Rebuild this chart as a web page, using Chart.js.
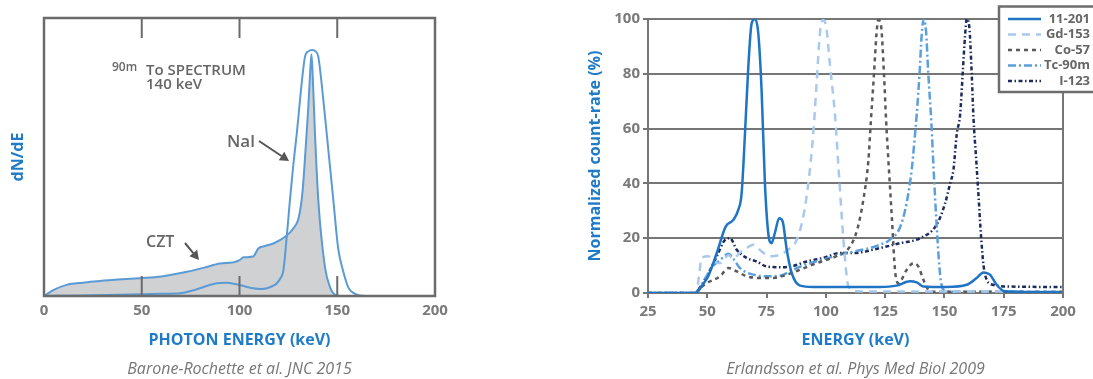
<!DOCTYPE html>
<html><head><meta charset="utf-8">
<script src="https://cdn.jsdelivr.net/npm/chart.js@4.4.0/dist/chart.umd.min.js"></script>
<style>
html,body{margin:0;padding:0;background:#fff;width:1093px;height:379px;overflow:hidden}
#c1{position:absolute;left:0;top:0}
#c2{position:absolute;left:560px;top:0}
</style></head><body>
<canvas id="c1" width="450" height="379" style="width:450px;height:379px"></canvas>
<canvas id="c2" width="533" height="379" style="width:533px;height:379px"></canvas>
<script>
// ---------- Left chart data (photon energy keV, relative dN/dE) ----------
const leftTicks = [0, 50, 100, 150, 200];
const cztX = [0, 5, 11.6, 20, 28.6, 40, 49, 60, 73, 82, 90, 96.7, 100, 102, 107, 109.6, 113, 117.3, 123.3, 127.5, 130.4, 132.3, 134, 135.2, 136.1, 136.8, 137.4, 138.6, 140.3, 143.7, 146.3, 148.8, 152, 200];
const cztY = [0, 2.2, 4.0, 4.8, 5.4, 6.0, 6.4, 7.0, 8.7, 10.2, 11.7, 12.1, 12.9, 13.9, 14.2, 17.1, 18.0, 18.9, 21.3, 24.3, 28.5, 38, 55, 68, 80, 87, 80, 58.5, 34.5, 10.5, 3.2, 0.5, 0, 0];
const naiX = [0, 20, 50, 60, 69.6, 75, 79.8, 84, 88.3, 93, 98.6, 103, 107, 111, 114, 117, 119, 121, 122.4, 124, 125.8, 127.5, 129.3, 131.8, 133.5, 135.2, 137.2, 139, 140.3, 142, 144.6, 148, 150.5, 153, 155.7, 157.4, 160.8, 165, 200];
const naiY = [0, 0.2, 0.6, 0.8, 1.0, 1.8, 2.8, 3.8, 4.6, 4.8, 4.2, 3.4, 2.8, 2.5, 2.8, 3.6, 4.5, 6.5, 9, 20, 34.5, 47, 58.5, 76.5, 86.1, 88, 88.5, 88, 86.1, 76.5, 58.5, 34.5, 17, 9, 3, 1.5, 0.3, 0, 0];
const leftLabels = {czt: 'CZT', nai: 'Nal', iso: '90m', spec: 'To SPECTRUM', energy: '140 keV'};
const leftXTitle = 'PHOTON ENERGY (keV)';
const leftYTitle = 'dN/dE';
const leftCaption = 'Barone-Rochette et al. JNC 2015';

// ---------- Right chart data (energy keV, normalized count-rate %) ----------
const rightXTicks = [25, 50, 75, 100, 125, 150, 175, 200];
const rightYTicks = [0, 20, 40, 60, 80, 100];
const seriesNames = ['11-201', 'Gd-153', 'Co-57', 'Tc-90m', 'I-123'];
const tlX = [25, 44, 45.5, 48, 50.4, 54, 57.8, 61, 63.1, 64.5, 65.9, 67.3, 68.7, 70.1, 71.5, 72.9, 74.3, 75.7, 77.1, 78.5, 80.3, 81.8, 83.5, 85.6, 89.1, 94.7, 110, 122.8, 129.8, 135.5, 138.3, 141.1, 150.9, 159.4, 163.6, 166.4, 169.2, 172, 175.5, 185, 200];
const tlY = [0, 0, 0.2, 3, 6.1, 14.6, 24.3, 26.7, 30.4, 36.5, 58.3, 82.6, 98.4, 100, 94.8, 74, 40.1, 21.9, 18.2, 21.9, 27.3, 26.1, 15.8, 7.3, 2.7, 2.2, 2.2, 2.2, 2.7, 4.3, 3.9, 2.4, 2.2, 3.0, 5.5, 7.5, 6.7, 3.0, 0.6, 0.3, 0.3];
const gdX = [25, 44, 45.5, 46.5, 47.6, 50.4, 52.6, 55.4, 58.9, 61, 63.5, 66.6, 69.4, 72.9, 76.5, 80.7, 84.9, 87.7, 90.5, 92.6, 94.7, 96.1, 97.5, 98.7, 100, 101.8, 103.9, 105.3, 106.7, 108.1, 109.5, 113, 200];
const gdY = [0, 0, 0.5, 6, 12.8, 13.4, 11.5, 10.9, 13.8, 12.5, 14.5, 16.4, 17.6, 15.2, 13.4, 14, 16.4, 19.4, 28, 40, 58.3, 76.5, 94.8, 99.6, 97.8, 82.6, 64.4, 46.2, 28, 12.2, 2.4, 0.6, 0.5];
const coX = [25, 45, 46.2, 49.8, 55.4, 58.9, 62.4, 66.6, 72.2, 77.9, 83.5, 89.1, 96.1, 106, 108.8, 111.5, 113.5, 115.8, 117.9, 119, 120.3, 121.3, 122.1, 123.2, 124.5, 125.4, 126.4, 127.8, 129.2, 130.6, 134.1, 136.9, 139, 141.1, 143.2, 145, 200];
const coY = [0, 0, 1.2, 3.6, 6.1, 9.1, 7.9, 6.1, 5.5, 5.5, 6.7, 8.5, 10.9, 14, 15.5, 19, 24, 34, 48, 63, 80, 94, 99.6, 98, 80, 63, 48, 28, 8, 3.6, 8.5, 10.9, 9.7, 4.9, 1.2, 0.5, 0.5];
const tcX = [25, 45, 46.5, 49, 52, 55.4, 58.9, 61, 63.8, 66.6, 69.4, 75, 80.7, 86, 92, 100, 106, 112, 118, 122.8, 127.1, 131.3, 134.1, 136.2, 137.3, 138.3, 139.5, 140.4, 141.3, 142.2, 143.2, 144.5, 145.5, 146.5, 147.5, 148.4, 149.6, 152, 200];
const tcY = [0, 0, 1, 5, 9.5, 12, 14.3, 12.5, 9.1, 7.5, 6.7, 6.1, 6.3, 8.5, 10.5, 12.5, 14, 15.2, 16.3, 17.6, 19.5, 24, 33, 45, 55, 65, 80, 94, 100, 96, 80, 62, 44, 28, 14, 4.9, 1.2, 0.5, 0.5];
const iX = [25, 45, 46.2, 49.8, 54, 57.5, 59.6, 62.4, 66.6, 70.8, 75, 80.7, 86.3, 91.9, 98.9, 106, 111.6, 122.8, 131.3, 139.7, 146.7, 150.3, 152.4, 153.8, 155.2, 156.6, 157.7, 158.7, 159.4, 160.5, 161.5, 162.3, 163.3, 164.4, 165.5, 166.5, 168, 170.5, 175, 200];
const iY = [0, 0, 1.2, 6.1, 13.4, 19.4, 20, 15.8, 12.8, 11.5, 9.7, 9.4, 9.9, 11.5, 12.8, 14.6, 14.6, 16.4, 18.2, 20, 24.9, 32.8, 40, 45, 58, 65, 80, 94, 100, 97, 80, 63, 50, 35, 20, 10, 4.5, 3.0, 2.4, 2.2];
const rightXTitle = 'ENERGY (keV)';
const rightYTitle = 'Normalized count-rate (%)';
const rightCaption = 'Erlandsson et al. Phys Med Biol 2009';

// ---------- styling ----------
const FONT = "'Open Sans', 'DejaVu Sans', sans-serif";
const TICK_GRAY = '#7a7a7a';
const AXIS_GRAY = '#767676';
const TITLE_BLUE = '#1f7bc8';
const pts = (xs, ys) => xs.map((x, i) => ({x: x, y: ys[i]}));

// ---------- Left chart ----------
const leftDecor = {
  id: 'leftDecor',
  afterDatasetsDraw(chart) {
    const {ctx, chartArea: a, scales: {x, y}} = chart;
    ctx.save();
    ctx.strokeStyle = '#6b6b6b';
    ctx.lineWidth = 2.5;
    ctx.strokeRect(a.left, a.top, a.right - a.left, a.bottom - a.top);
    ctx.lineWidth = 2;
    leftTicks.slice(1, -1).forEach(v => {
      const px = x.getPixelForValue(v);
      ctx.beginPath();
      ctx.moveTo(px, a.top); ctx.lineTo(px, a.top + 20);
      ctx.moveTo(px, a.bottom); ctx.lineTo(px, a.bottom - 20);
      ctx.stroke();
    });
    ctx.fillStyle = '#666';
    ctx.textBaseline = 'alphabetic';
    ctx.textAlign = 'left';
    ctx.font = '600 12px ' + FONT;
    ctx.fillText(leftLabels.iso, 112, 71);
    ctx.font = '600 15px ' + FONT;
    ctx.fillText(leftLabels.spec, 146, 75);
    ctx.fillText(leftLabels.energy, 146, 89);
    ctx.font = '600 17px ' + FONT;
    ctx.fillText(leftLabels.nai, 227, 147);
    ctx.font = '600 16px ' + FONT;
    ctx.fillText(leftLabels.czt, 146, 247);
    const arrow = (x0, y0, x1, y1) => {
      const ang = Math.atan2(y1 - y0, x1 - x0);
      const hl = 9, hw = 5;
      const bx = x1 - hl * Math.cos(ang), by = y1 - hl * Math.sin(ang);
      ctx.strokeStyle = '#555'; ctx.fillStyle = '#555'; ctx.lineWidth = 2;
      ctx.beginPath(); ctx.moveTo(x0, y0); ctx.lineTo(bx, by); ctx.stroke();
      ctx.beginPath();
      ctx.moveTo(x1, y1);
      ctx.lineTo(bx + hw * Math.sin(ang), by - hw * Math.cos(ang));
      ctx.lineTo(bx - hw * Math.sin(ang), by + hw * Math.cos(ang));
      ctx.closePath(); ctx.fill();
    };
    arrow(259, 141, 289, 161);
    arrow(185, 243, 199, 260);
    ctx.restore();
  }
};

new Chart(document.getElementById('c1'), {
  type: 'line',
  data: {datasets: [
    {label: leftLabels.nai, data: pts(naiX, naiY), borderColor: '#5b9bd5', borderWidth: 2, fill: false, pointRadius: 0, cubicInterpolationMode: 'monotone'},
    {label: leftLabels.czt, data: pts(cztX, cztY), borderColor: '#5b9bd5', backgroundColor: '#d0d1d3', borderWidth: 2, fill: 'origin', pointRadius: 0, cubicInterpolationMode: 'monotone'}
  ]},
  options: {
    responsive: false, animation: false, devicePixelRatio: 1,
    layout: {padding: {top: 18, right: 15, left: 0, bottom: 0}},
    plugins: {
      legend: {display: false}, tooltip: {enabled: false},
      title: {display: true, position: 'bottom', fullSize: false, text: leftCaption, color: '#777',
        font: {family: FONT, size: 16, style: 'italic', weight: 'normal'}, padding: {top: 0, bottom: 0}}
    },
    scales: {
      x: {type: 'linear', min: 0, max: 200,
        afterBuildTicks: s => { s.ticks = leftTicks.map(v => ({value: v})); },
        ticks: {color: TICK_GRAY, font: {family: FONT, size: 15, weight: 'bold'}, padding: 6, maxRotation: 0},
        grid: {display: false, drawTicks: false}, border: {display: false},
        title: {display: true, text: leftXTitle, color: TITLE_BLUE, font: {family: FONT, size: 16, weight: 'bold'}, padding: {top: 0, bottom: 10}},
        afterFit: s => { s.height = 63.8; s.paddingLeft = 0; s.paddingRight = 0; }
      },
      y: {min: 0, max: 100, ticks: {display: false}, grid: {display: false, drawTicks: false}, border: {display: false},
        title: {display: true, text: leftYTitle, color: TITLE_BLUE, font: {family: FONT, size: 16, weight: 'bold'}, padding: {top: 9, bottom: 0}},
        afterFit: s => { s.width = 44; s.paddingTop = 0; s.paddingBottom = 0; }
      }
    }
  },
  plugins: [leftDecor]
});

// ---------- Right chart ----------
const rightDecor = {
  id: 'rightDecor',
  afterDraw(chart) {
    const {ctx, chartArea: a} = chart;
    ctx.save();
    ctx.strokeStyle = AXIS_GRAY; ctx.lineWidth = 2;
    ctx.beginPath(); ctx.moveTo(a.right, a.top - 1); ctx.lineTo(a.right, a.bottom + 1); ctx.stroke();
    // legend box
    const bx = 439, by = 6.5, bh = 85.5;
    ctx.fillStyle = '#fff';
    ctx.fillRect(bx, by, 100, bh);
    ctx.lineWidth = 2.5; ctx.strokeStyle = '#6d6d6d';
    ctx.strokeRect(bx, by, 100, bh);
    const rows = [19, 34.5, 50, 65.5, 81];
    chart.data.datasets.forEach((ds, i) => {
      const yy = rows[i];
      ctx.strokeStyle = ds.borderColor; ctx.lineWidth = ds.borderWidth;
      ctx.setLineDash(ds.borderDash || []);
      ctx.beginPath(); ctx.moveTo(448, yy); ctx.lineTo(481, yy); ctx.stroke();
      ctx.setLineDash([]);
      ctx.fillStyle = '#666'; ctx.font = 'bold 13px ' + FONT;
      ctx.textAlign = 'right'; ctx.textBaseline = 'middle';
      ctx.fillText(ds.label, 530, yy);
    });
    ctx.restore();
  }
};

const common = {pointRadius: 0, fill: false, cubicInterpolationMode: 'monotone', borderWidth: 2.5};
new Chart(document.getElementById('c2'), {
  type: 'line',
  data: {datasets: [
    Object.assign({label: seriesNames[0], data: pts(tlX, tlY), borderColor: '#1f74c4'}, common),
    Object.assign({label: seriesNames[1], data: pts(gdX, gdY), borderColor: '#a9c9ec', borderDash: [8, 6]}, common),
    Object.assign({label: seriesNames[2], data: pts(coX, coY), borderColor: '#5a5a5a', borderDash: [4, 4]}, common),
    Object.assign({label: seriesNames[3], data: pts(tcX, tcY), borderColor: '#5b9fdc', borderDash: [8, 3, 2, 3]}, common),
    Object.assign({label: seriesNames[4], data: pts(iX, iY), borderColor: '#1c2b5e', borderDash: [4, 2.5, 1.5, 2.5]}, common)
  ]},
  options: {
    responsive: false, animation: false, devicePixelRatio: 1,
    layout: {padding: {top: 19, right: 30, left: 0, bottom: 0}},
    plugins: {
      legend: {display: false}, tooltip: {enabled: false},
      title: {display: true, position: 'bottom', fullSize: false, text: rightCaption, color: '#777',
        font: {family: FONT, size: 16, style: 'italic', weight: 'normal'}, padding: {top: 0, bottom: 0}}
    },
    scales: {
      x: {type: 'linear', min: 25, max: 200,
        afterBuildTicks: s => { s.ticks = rightXTicks.map(v => ({value: v})); },
        ticks: {color: TICK_GRAY, font: {family: FONT, size: 15, weight: 'bold'}, padding: 5, maxRotation: 0},
        grid: {drawOnChartArea: false, drawTicks: true, tickLength: 5, color: AXIS_GRAY, lineWidth: 2},
        border: {display: true, color: AXIS_GRAY, width: 2},
        title: {display: true, text: rightXTitle, color: TITLE_BLUE, font: {family: FONT, size: 16, weight: 'bold'}, padding: {top: 0, bottom: 10}},
        afterFit: s => { s.height = 66.8; s.paddingLeft = 0; s.paddingRight = 0; }
      },
      y: {min: 0, max: 100,
        afterBuildTicks: s => { s.ticks = rightYTicks.map(v => ({value: v})); },
        ticks: {color: TICK_GRAY, font: {family: FONT, size: 15, weight: 'bold'}, padding: 3},
        grid: {color: AXIS_GRAY, lineWidth: 2, tickLength: 5},
        border: {display: true, color: AXIS_GRAY, width: 2},
        title: {display: true, text: rightYTitle, color: TITLE_BLUE, font: {family: FONT, size: 16, weight: 'bold'}, padding: {top: 26, bottom: 0}},
        afterFit: s => { s.width = 88; s.paddingTop = 0; s.paddingBottom = 0; }
      }
    }
  },
  plugins: [rightDecor]
});
</script>
</body></html>
